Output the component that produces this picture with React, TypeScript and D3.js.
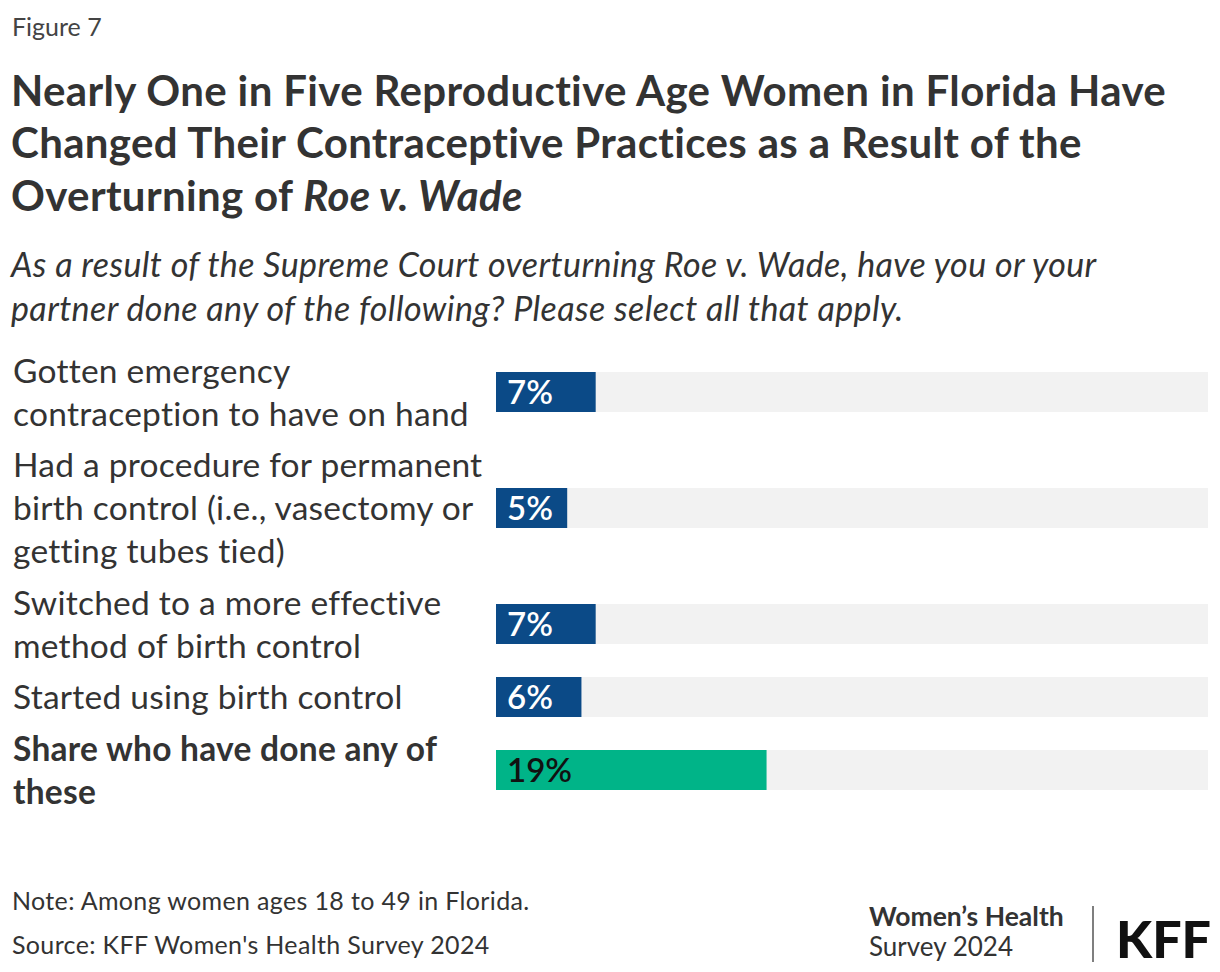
import React from "react";
import * as d3 from "d3";

const categories: string[][] = [
  ["Gotten emergency", "contraception to have on hand"],
  ["Had a procedure for permanent", "birth control (i.e., vasectomy or", "getting tubes tied)"],
  ["Switched to a more effective", "method of birth control"],
  ["Started using birth control"],
  ["Share who have done any of", "these"],
];
const values = [7, 5, 7, 6, 19];
const isTotal = [false, false, false, false, true];
const domainMax = 50;

const titleLines = [
  "Nearly One in Five Reproductive Age Women in Florida Have",
  "Changed Their Contraceptive Practices as a Result of the",
];
const subtitleLines = [
  "As a result of the Supreme Court overturning Roe v. Wade, have you or your",
  "partner done any of the following? Please select all that apply.",
];

const FONT = "'Lato', 'Source Sans Pro', sans-serif";
const TEXT = "#333333";
const BLUE = "#0B4A87";
const GREEN = "#00B488";
const TRACK = "#F2F2F2";

export default function App() {
  const W = 1220;
  const H = 972;
  const x = d3.scaleLinear().domain([0, domainMax]).range([496, 1208]);
  const lineH = 43;
  const gap = 8.5;
  const barH = 40;
  let top = 349;
  const rows = categories.map((lines, i) => {
    const h = lines.length * lineH;
    const center = top + h / 2;
    const r = { lines, top, center, value: values[i], total: isTotal[i] };
    top += h + gap;
    return r;
  });

  return (
    <svg width={W} height={H} style={{ position: "absolute", left: 0, top: 0, fontFamily: FONT }}>
      <rect width={W} height={H} fill="#fff" />
      <text x={12} y={36} fontSize={25} fill="#444">Figure 7</text>
      {titleLines.map((t, i) => (
        <text key={i} x={11} y={105.5 + i * 52.5} fontSize={42} fontWeight={700} letterSpacing={0.35} fill={TEXT}>{t}</text>
      ))}
      <text x={11} y={210.5} fontSize={42} fontWeight={700} letterSpacing={0.35} fill={TEXT}>
        Overturning of <tspan fontStyle="italic">Roe v. Wade</tspan>
      </text>
      {subtitleLines.map((t, i) => (
        <text key={i} x={11} y={276.5 + i * 44} fontSize={34} fontStyle="italic" letterSpacing={0.4} fill={TEXT}>{t}</text>
      ))}
      {rows.map((r, i) => (
        <g key={i}>
          {r.lines.map((l, j) => (
            <text
              key={j}
              x={13}
              y={r.top + j * lineH + lineH / 2 + 12}
              fontSize={33.5}
              letterSpacing={0.25}
              fontWeight={r.total ? 700 : 400}
              fill={TEXT}
            >
              {l}
            </text>
          ))}
          <rect x={x(0)} y={r.center - barH / 2} width={x(domainMax) - x(0)} height={barH} fill={TRACK} />
          <rect x={x(0)} y={r.center - barH / 2} width={x(r.value) - x(0)} height={barH} fill={r.total ? GREEN : BLUE} />
          <text
            x={x(0) + 11}
            y={r.center + 12}
            fontSize={33}
            fontWeight={600}
            fill={r.total ? "#111" : "#fff"}
          >
            {r.value}%
          </text>
        </g>
      ))}
      <text x={12} y={910} fontSize={25} letterSpacing={0.35} fill={TEXT}>Note: Among women ages 18 to 49 in Florida.</text>
      <text x={12} y={954} fontSize={25} letterSpacing={0.35} fill={TEXT}>Source: KFF Women's Health Survey 2024</text>
      <text x={869} y={926} fontSize={26.5} fontWeight={700} fill={TEXT}>Women’s Health</text>
      <text x={869} y={956} fontSize={26} fill={TEXT}>Survey 2024</text>
      <line x1={1093} x2={1093} y1={906} y2={962} stroke="#555" strokeWidth={1.5} />
      <text x={1116} y={958} fontSize={52} fontWeight={900} fill="#111">KFF</text>
    </svg>
  );
}
